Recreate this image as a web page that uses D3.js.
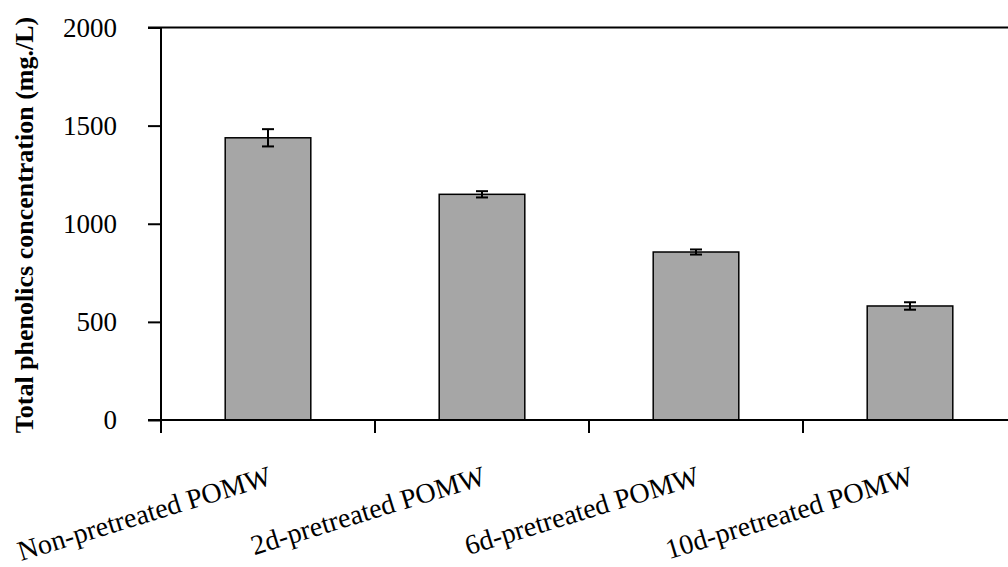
<!DOCTYPE html>
<html>
<head>
<meta charset="utf-8">
<script src="https://cdn.jsdelivr.net/npm/d3@7"></script>
<style>
  html, body { margin: 0; padding: 0; background: #fff; overflow: hidden; }
  svg { display: block; }
  text { font-family: "Liberation Serif", "Times New Roman", serif; fill: #000; }
</style>
</head>
<body>
<svg id="chart" width="1008" height="567"></svg>
<script>
const categories = ["Non-pretreated POMW", "2d-pretreated POMW", "6d-pretreated POMW", "10d-pretreated POMW"];
const values = [1438, 1150, 856, 581];
const errors = [44, 16, 13, 19];
const yTicks = [0, 500, 1000, 1500, 2000];
const yTitle = "Total phenolics concentration (mg./L)";

const svg = d3.select("#chart");
const W = 1008;
const x0 = 161, x1 = 1017, yBottom = 420, yTop = 27.5;

const x = d3.scaleBand().domain(categories).range([x0, x1]).paddingInner(0.6).paddingOuter(0.3);
const y = d3.scaleLinear().domain([0, 2000]).range([yBottom, yTop]);
const step = x.step();

// top border line
svg.append("line")
  .attr("x1", x0 - 13).attr("x2", W).attr("y1", y(2000)).attr("y2", y(2000))
  .attr("stroke", "#000").attr("stroke-width", 2);

// bars
const data = categories.map((c, i) => ({ c, v: values[i], e: errors[i] }));
svg.selectAll("rect.bar").data(data).enter().append("rect")
  .attr("class", "bar")
  .attr("x", d => x(d.c))
  .attr("y", d => y(d.v))
  .attr("width", x.bandwidth())
  .attr("height", d => y(0) - y(d.v))
  .attr("fill", "#a6a6a6")
  .attr("stroke", "#000")
  .attr("stroke-width", 1.5);

// error bars
const eb = svg.selectAll("g.err").data(data).enter().append("g").attr("class", "err");
const cx = d => x(d.c) + x.bandwidth() / 2;
eb.append("line")
  .attr("x1", cx).attr("x2", cx)
  .attr("y1", d => y(d.v + d.e)).attr("y2", d => y(d.v - d.e))
  .attr("stroke", "#000").attr("stroke-width", 2);
eb.append("line")
  .attr("x1", d => cx(d) - 6).attr("x2", d => cx(d) + 6)
  .attr("y1", d => y(d.v + d.e)).attr("y2", d => y(d.v + d.e))
  .attr("stroke", "#000").attr("stroke-width", 2);
eb.append("line")
  .attr("x1", d => cx(d) - 6).attr("x2", d => cx(d) + 6)
  .attr("y1", d => y(d.v - d.e)).attr("y2", d => y(d.v - d.e))
  .attr("stroke", "#000").attr("stroke-width", 2);

// y axis
const yAxis = d3.axisLeft(y).tickValues(yTicks).tickSize(13).tickPadding(31).tickFormat(d3.format("d"));
const gy = svg.append("g").attr("transform", `translate(${x0},0)`).call(yAxis);
gy.select(".domain").remove();
gy.selectAll(".tick line").attr("stroke", "#000").attr("stroke-width", 2);
gy.selectAll(".tick text").attr("font-size", 27).attr("font-family", "Liberation Serif");
svg.append("line")
  .attr("x1", x0).attr("x2", x0).attr("y1", y(2000)).attr("y2", y(0))
  .attr("stroke", "#000").attr("stroke-width", 2);

// x axis line
svg.append("line")
  .attr("x1", x0 - 13).attr("x2", W).attr("y1", y(0)).attr("y2", y(0))
  .attr("stroke", "#000").attr("stroke-width", 2);

// x ticks at band boundaries
const boundaries = categories.map(c => x(c) - step * 0.3);
svg.selectAll("line.xtick").data(boundaries).enter().append("line")
  .attr("class", "xtick")
  .attr("x1", d => d).attr("x2", d => d)
  .attr("y1", y(0)).attr("y2", y(0) + 13)
  .attr("stroke", "#000").attr("stroke-width", 2);

// category labels
svg.selectAll("text.cat").data(categories).enter().append("text")
  .attr("class", "cat")
  .attr("font-size", 28)
  .attr("text-anchor", "end")
  .attr("transform", c => `translate(${x(c) + x.bandwidth() / 2 + 5},484) rotate(-17)`)
  .text(c => c);

// y title
svg.append("text")
  .attr("font-size", 26)
  .attr("font-weight", "bold")
  .attr("text-anchor", "middle")
  .attr("transform", `translate(33,225) rotate(-90)`)
  .text(yTitle);
</script>
</body>
</html>
